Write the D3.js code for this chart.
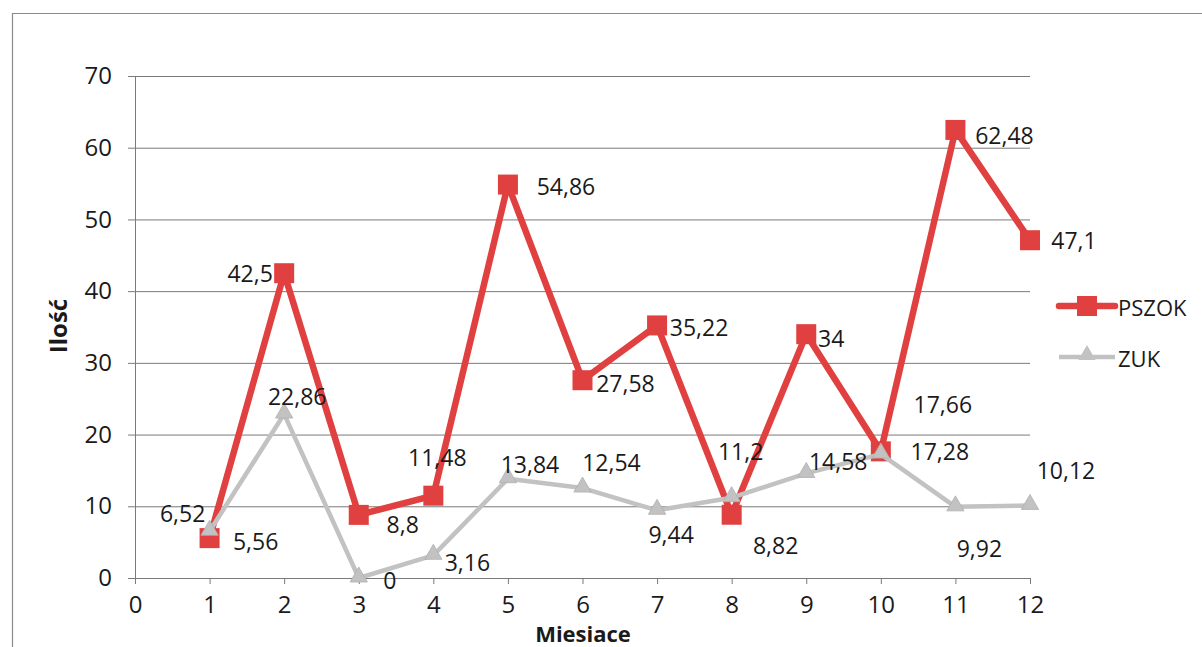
<!DOCTYPE html>
<html><head><meta charset="utf-8">
<script src="https://cdn.jsdelivr.net/npm/d3@7"></script>
<style>body{margin:0;background:#fff}svg{display:block}text{font-family:"Open Sans",sans-serif;fill:#1a1a1a}</style>
</head><body>
<svg id="c" width="1202" height="647"></svg>
<script>
const months = [1,2,3,4,5,6,7,8,9,10,11,12];
const pszok = [5.56,42.5,8.8,11.48,54.86,27.58,35.22,8.82,34,17.66,62.48,47.1];
const zuk = [6.52,22.86,0,3.16,13.84,12.54,9.44,11.2,14.58,17.28,9.92,10.12];
const pszokLabels = ["5,56","42,5","8,8","11,48","54,86","27,58","35,22","8,82","34","17,66","62,48","47,1"];
const zukLabels = ["6,52","22,86","0","3,16","13,84","12,54","9,44","11,2","14,58","17,28","9,92","10,12"];
const xTicks = [0,1,2,3,4,5,6,7,8,9,10,11,12];
const yTicks = [0,10,20,30,40,50,60,70];
// label placement offsets (label centre relative to point)
const pszokOff = [[46,3],[-34,0],[44,9],[4,-39],[58,1],[43,3],[42,2],[44,30],[25,4],[62,-47],[49,5],[44,0]];
const zukOff = [[-27,-18],[13,-18],[31,2],[34,7],[22,-15],[29,-26],[14,24],[9,-47],[32,-12],[59,-3],[24,41],[36,-35]];

const svg = d3.select("#c");
const x = d3.scaleLinear().domain([0,12]).range([135,1030]);
const y = d3.scaleLinear().domain([0,70]).range([578,76]);
const RED = "#e0403f", GRAY = "#c2c2c2", AX = "#7a7a7a";

// page border (scan)
svg.append("path").attr("d","M12.5,647 V13.5 H1202").attr("fill","none").attr("stroke","#8a8a8a").attr("stroke-width",1.2);

// gridlines + y axis
const ya = svg.append("g").attr("transform","translate(135,0)")
  .call(d3.axisLeft(y).tickValues(yTicks).tickSize(-(1030-135)).tickSizeOuter(0).tickPadding(23));
ya.select(".domain").remove();
ya.selectAll(".tick line").attr("stroke",AX).attr("x1",-7);
ya.selectAll(".tick text").attr("font-size",24).attr("font-family","'Open Sans',sans-serif").attr("fill","#1a1a1a");
svg.append("line").attr("x1",135.5).attr("x2",135.5).attr("y1",y(70)).attr("y2",y(0)).attr("stroke",AX);

// x axis
const xa = svg.append("g").attr("transform","translate(0,578)")
  .call(d3.axisBottom(x).tickValues(xTicks).tickSize(6).tickSizeOuter(0).tickPadding(12));
xa.select(".domain").attr("stroke",AX).attr("d","M128,0.5H1030");
xa.selectAll(".tick line").attr("stroke",AX);
xa.selectAll(".tick text").attr("font-size",24).attr("font-family","'Open Sans',sans-serif").attr("fill","#1a1a1a");

// titles
svg.append("text").attr("x",583).attr("y",642).attr("text-anchor","middle").attr("font-size",22).attr("font-weight","bold").text("Miesiace");
svg.append("text").attr("transform","translate(67,326) rotate(-90)").attr("text-anchor","middle").attr("font-size",24).attr("font-weight","bold").text("Ilość");

const line = d3.line().x((d,i)=>x(months[i])).y(d=>y(d));

// PSZOK
svg.append("path").datum(pszok).attr("d",line).attr("fill","none").attr("stroke",RED).attr("stroke-width",6.5).attr("stroke-linejoin","round");
svg.selectAll(".sq").data(pszok).join("rect").attr("class","sq")
  .attr("x",(d,i)=>x(months[i])-10).attr("y",d=>y(d)-10).attr("width",20).attr("height",20).attr("fill",RED);

// ZUK
const tri = d3.symbol().type(d3.symbolTriangle).size(130);
svg.append("path").datum(zuk).attr("d",line).attr("fill","none").attr("stroke",GRAY).attr("stroke-width",4.5).attr("stroke-linejoin","round");
svg.selectAll(".tr").data(zuk).join("path").attr("class","tr").attr("d",tri)
  .attr("transform",(d,i)=>`translate(${x(months[i])},${y(d)-1})`).attr("fill",GRAY).attr("stroke","#b0b0b0").attr("stroke-width",0.8);

// data labels
function labels(vals, texts, offs){
  svg.append("g").selectAll("text").data(vals).join("text")
    .attr("x",(d,i)=>x(months[i])+offs[i][0]).attr("y",(d,i)=>y(d)+offs[i][1])
    .attr("text-anchor","middle").attr("dominant-baseline","central").attr("font-size",23)
    .text((d,i)=>texts[i]);
}
labels(pszok,pszokLabels,pszokOff);
labels(zuk,zukLabels,zukOff);

// legend
const lg = svg.append("g");
lg.append("line").attr("x1",1059).attr("x2",1115).attr("y1",306).attr("y2",306).attr("stroke",RED).attr("stroke-width",6.5).attr("stroke-linecap","round");
lg.append("rect").attr("x",1077).attr("y",296).attr("width",20).attr("height",20).attr("fill",RED);
lg.append("text").attr("x",1118).attr("y",307).attr("dominant-baseline","central").attr("font-size",22).text("PSZOK");
lg.append("line").attr("x1",1059).attr("x2",1115).attr("y1",357).attr("y2",357).attr("stroke",GRAY).attr("stroke-width",4.5);
lg.append("path").attr("d",tri).attr("transform","translate(1087,355)").attr("fill",GRAY);
lg.append("text").attr("x",1118).attr("y",358).attr("dominant-baseline","central").attr("font-size",22).text("ZUK");
</script>
</body></html>
